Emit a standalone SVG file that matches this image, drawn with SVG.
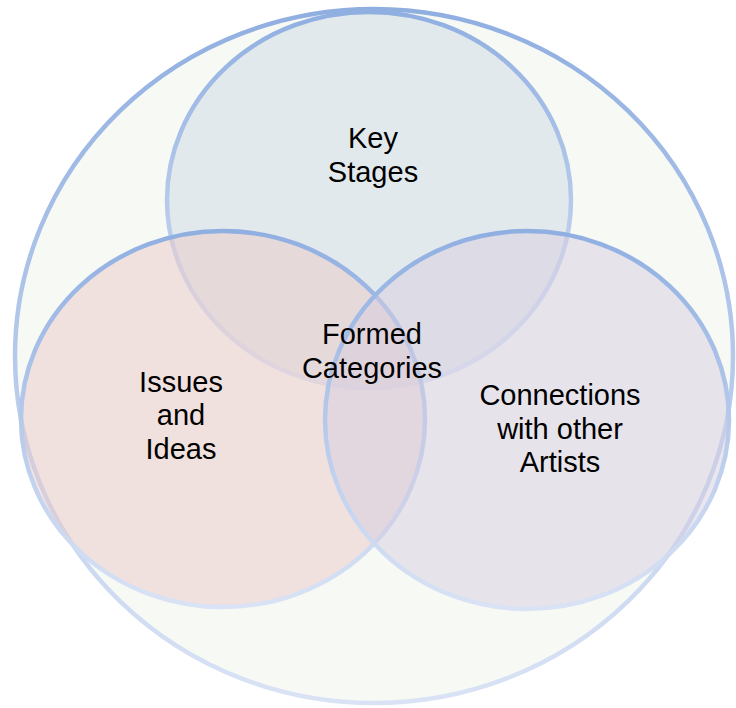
<svg xmlns="http://www.w3.org/2000/svg" width="736" height="708" viewBox="0 0 736 708">
  <defs>
    <linearGradient id="rim" x1="0" y1="0" x2="0" y2="1">
      <stop offset="0" stop-color="#90afe1"/>
      <stop offset="1" stop-color="#dae3f5"/>
    </linearGradient>
    <style>
      .ring { stroke: url(#rim); stroke-width: 4.5; }
      .set { fill-opacity: 0.5; }
      .label { font-family: "Liberation Sans", Arial, sans-serif; font-size: 29px; fill: #000; text-anchor: middle; }
    </style>
  </defs>
  <rect width="736" height="708" fill="#ffffff"/>

  <!-- enclosing set -->
  <g id="formed-categories-outer">
    <ellipse class="ring" cx="374" cy="356" rx="359" ry="347" fill="#f7f9f4"/>
  </g>

  <!-- three overlapping sets -->
  <g id="key-stages">
    <ellipse class="ring set" cx="369" cy="200" rx="202" ry="188" fill="#cdd9e6"/>
  </g>
  <g id="issues-and-ideas">
    <ellipse class="ring set" cx="223" cy="419" rx="202" ry="188" fill="#e9c9c8"/>
  </g>
  <g id="connections">
    <ellipse class="ring set" cx="527" cy="420" rx="202" ry="189" fill="#d5cde0"/>
  </g>

  <!-- labels -->
  <g id="labels">
    <text class="label" x="373" y="148">Key</text>
    <text class="label" x="373" y="182">Stages</text>
    <text class="label" x="372" y="344">Formed</text>
    <text class="label" x="372" y="378">Categories</text>
    <text class="label" x="181" y="392">Issues</text>
    <text class="label" x="181" y="425">and</text>
    <text class="label" x="181" y="459">Ideas</text>
    <text class="label" x="560" y="405">Connections</text>
    <text class="label" x="560" y="439">with other</text>
    <text class="label" x="560" y="472">Artists</text>
  </g>
</svg>
